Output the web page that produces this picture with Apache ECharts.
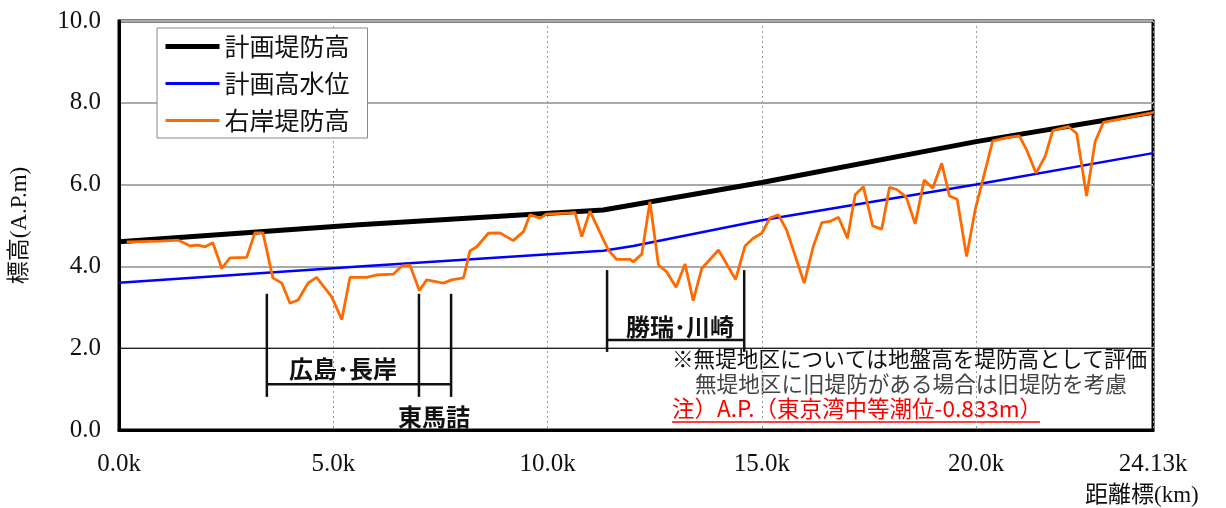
<!DOCTYPE html>
<html>
<head>
<meta charset="utf-8">
<script src="https://cdn.jsdelivr.net/npm/echarts@6/dist/echarts.min.js"></script>
<style>
  body { margin: 0; background: #fff; }
  #chart { width: 1226px; height: 508px; }
</style>
</head>
<body>
<div id="chart"></div>
<script>
// 計画堤防高 (km, m)
const leveeKm = [0, 5.6, 11.3, 15, 20, 24.13]
const leveeHeight = [4.6, 5.02, 5.38, 6.05, 7.05, 7.77]

// 計画高水位
const hwlKm = [0, 5.6, 11.3, 12, 15, 20, 24.13]
const hwlHeight = [3.6, 4.0, 4.38, 4.5, 5.13, 6.0, 6.77]

// 右岸堤防高
const bankKm = [
  0.18, 0.96, 1.38, 1.46, 1.66, 1.84, 2.01, 2.19, 2.40, 2.59,
  2.98, 3.17, 3.36, 3.59, 3.80, 3.99, 4.18, 4.41, 4.61, 4.96,
  5.20, 5.39, 5.78, 6.01, 6.40, 6.60, 6.79, 7.01, 7.18, 7.57,
  7.76, 8.04, 8.19, 8.35, 8.62, 8.89, 9.20, 9.44, 9.59, 9.83,
  9.98, 10.53, 10.64, 10.80, 10.99, 11.42, 11.61, 11.93, 12.00, 12.20,
  12.39, 12.59, 12.78, 13.00, 13.21, 13.40, 13.60, 13.99, 14.39, 14.61,
  14.80, 15.00, 15.19, 15.39, 15.58, 15.99, 16.20, 16.40, 16.59, 16.79,
  17.00, 17.18, 17.37, 17.59, 17.80, 17.98, 18.15, 18.37, 18.58, 18.79,
  18.99, 19.20, 19.38, 19.56, 19.78, 19.98, 20.39, 20.72, 21.01, 21.18,
  21.40, 21.61, 21.79, 22.15, 22.35, 22.58, 22.78, 22.97, 24.13
]
const bankHeight = [
  4.60, 4.62, 4.64, 4.60, 4.50, 4.52, 4.48, 4.58, 3.95, 4.21,
  4.22, 4.82, 4.82, 3.72, 3.59, 3.10, 3.18, 3.59, 3.73, 3.26,
  2.70, 3.73, 3.73, 3.79, 3.81, 4.01, 4.03, 3.41, 3.67, 3.59,
  3.67, 3.72, 4.38, 4.48, 4.81, 4.82, 4.63, 4.85, 5.26, 5.18,
  5.28, 5.31, 5.32, 4.73, 5.35, 4.40, 4.17, 4.17, 4.11, 4.30,
  5.58, 4.03, 3.87, 3.49, 4.06, 3.16, 3.95, 4.40, 3.68, 4.50,
  4.69, 4.81, 5.18, 5.26, 4.89, 3.59, 4.48, 5.07, 5.10, 5.20,
  4.69, 5.75, 5.95, 4.99, 4.91, 5.93, 5.88, 5.70, 5.04, 6.11,
  5.91, 6.52, 5.72, 5.64, 4.24, 5.38, 7.07, 7.15, 7.19, 6.85,
  6.28, 6.68, 7.32, 7.42, 7.25, 5.72, 7.05, 7.52, 7.76
]

const xMax = 24.13
const yTicks = [0, 2, 4, 6, 8, 10]

// 区間ブラケット [x1, y1, x2, y2]
const bracketSegs = [
  [3.45, 3.33, 3.45, 0.81], [3.45, 1.12, 7.75, 1.12],
  [7.0, 3.33, 7.0, 0.81], [7.75, 3.33, 7.75, 0.81],
  [11.39, 3.91, 11.39, 1.91], [11.39, 2.2, 14.59, 2.2], [14.59, 3.91, 14.59, 1.91]
]
const sectionNames = ['広島･長岸', '東馬詰', '勝瑞･川崎']
const sectionKm = [5.23, 7.35, 13.09]
const sectionY = [1.49, 0.32, 2.52]

const notes = [
  '※無堤地区については地盤高を堤防高として評価',
  '無堤地区に旧堤防がある場合は旧堤防を考慮',
  '注）A.P.（東京湾中等潮位-0.833m）'
]

const zip = (xs, ys) => xs.map((x, i) => [x, ys[i]])
const serif = '"Liberation Serif", "Noto Sans CJK JP", serif'
const gothic = '"Noto Sans CJK JP", sans-serif'

const chart = echarts.init(document.getElementById('chart'))

chart.setOption({
  backgroundColor: '#fff',
  animation: false,
  grid: {
    left: 119, right: 73, top: 21, bottom: 78,
    show: true, borderColor: '#000', borderWidth: 3, backgroundColor: '#fff'
  },
  legend: {
    data: [
      { name: '計画堤防高', lineStyle: { width: 5 } },
      { name: '計画高水位', lineStyle: { width: 3 } },
      { name: '右岸堤防高', lineStyle: { width: 3 } }
    ],
    orient: 'vertical',
    left: 157, top: 28,
    padding: [6, 18, 5, 6],
    itemWidth: 54, itemHeight: 25, itemGap: 12,
    itemStyle: { opacity: 0 },
    backgroundColor: '#fff',
    borderColor: '#888', borderWidth: 1, borderRadius: 0,
    textStyle: { fontFamily: gothic, fontSize: 25, color: '#111', lineHeight: 25 }
  },
  xAxis: {
    type: 'value', min: 0, max: xMax, interval: 5,
    axisLine: { lineStyle: { color: '#000', width: 3 } },
    axisTick: { show: false },
    splitLine: { lineStyle: { color: '#999', type: [2, 3], width: 1 } },
    axisLabel: {
      margin: 22, fontFamily: serif, fontSize: 25, color: '#111',
      formatter: v => (Math.abs(v - xMax) < 1e-6 ? '24.13' : v.toFixed(1)) + 'k'
    }
  },
  yAxis: {
    type: 'value', min: 0, max: 10, interval: 2,
    name: '標高(A.P.m)', nameLocation: 'middle', nameGap: 88,
    nameTextStyle: { fontFamily: serif, fontSize: 23, color: '#111' },
    axisLine: { show: true, lineStyle: { color: '#000', width: 3 } },
    axisTick: { show: false },
    splitLine: { lineStyle: { color: '#aaa', width: 2 } },
    axisLabel: {
      margin: 18, fontFamily: serif, fontSize: 25, color: '#111',
      formatter: v => yTicks.includes(v) ? v.toFixed(1) : ''
    }
  },
  graphic: [
    { type: 'text', left: 1085, top: 484,
      style: { text: '距離標(km)', font: '23px ' + serif, fill: '#111' } },
    { type: 'text', left: 672, top: 348,
      style: { text: notes[0], font: '21.6px ' + gothic, fill: '#111' } },
    { type: 'text', left: 695, top: 373,
      style: { text: notes[1], font: '21.6px ' + gothic, fill: '#444' } },
    { type: 'text', left: 672, top: 397,
      style: { text: notes[2], font: '22.5px ' + gothic, fill: '#ff0000' } },
    { type: 'line', shape: { x1: 672, y1: 422, x2: 1040, y2: 422 },
      style: { stroke: '#ff0000', lineWidth: 1.5 } }
  ],
  series: [
    {
      name: '計画堤防高', type: 'line', data: zip(leveeKm, leveeHeight),
      symbol: 'none', color: '#000', lineStyle: { color: '#000', width: 5 }, z: 3
    },
    {
      name: '計画高水位', type: 'line', data: zip(hwlKm, hwlHeight),
      symbol: 'none', color: '#0000ff', lineStyle: { color: '#0000ff', width: 2.5 }, z: 4
    },
    {
      name: '右岸堤防高', type: 'line', data: zip(bankKm, bankHeight),
      symbol: 'none', color: '#ff6a00', lineStyle: { color: '#ff6a00', width: 2.8 }, z: 5,
      markLine: {
        silent: true, symbol: 'none', label: { show: false },
        lineStyle: { color: '#222', width: 1, type: 'solid' },
        data: [{ yAxis: 2 }]
      }
    },
    {
      type: 'custom', silent: true, z: 6,
      data: bracketSegs,
      renderItem: (params, api) => {
        const p1 = api.coord([api.value(0), api.value(1)])
        const p2 = api.coord([api.value(2), api.value(3)])
        return {
          type: 'line',
          shape: { x1: p1[0], y1: p1[1], x2: p2[0], y2: p2[1] },
          style: { stroke: '#111', lineWidth: 2.5 }
        }
      }
    },
    {
      type: 'custom', silent: true, z: 6,
      data: sectionNames.map((n, i) => [sectionKm[i], sectionY[i]]),
      renderItem: (params, api) => {
        const p = api.coord([api.value(0), api.value(1)])
        return {
          type: 'text',
          x: p[0], y: p[1],
          style: {
            text: sectionNames[params.dataIndex],
            font: 'bold 24px ' + gothic, fill: '#111',
            align: 'center', verticalAlign: 'middle'
          }
        }
      }
    }
  ]
})
</script>
</body>
</html>
